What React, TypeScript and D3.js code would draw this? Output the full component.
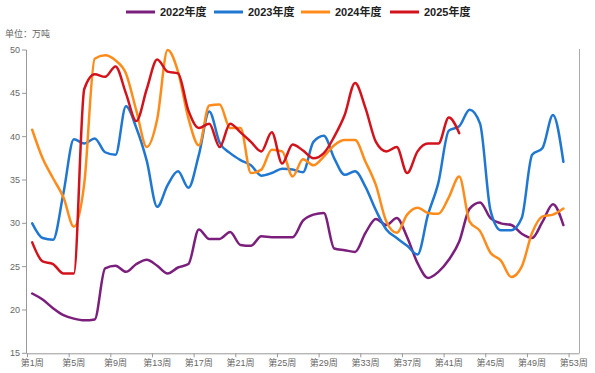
import React from "react";
import * as d3 from "d3";

const weeks = d3.range(1, 54);
const tickWeeks = [1, 5, 9, 13, 17, 21, 25, 29, 33, 37, 41, 45, 49, 53];
const yTicks = [15, 20, 25, 30, 35, 40, 45, 50];

const s2022 = [21.9, 21.2, 20.2, 19.4, 19.0, 18.8, 18.9, 24.8, 25.1, 24.4, 25.3, 25.8, 25.1, 24.2, 24.9, 25.3, 29.3, 28.2, 28.2, 29.0, 27.5, 27.4, 28.5, 28.4, 28.4, 28.4, 30.3, 31.0, 31.2, 27.1, 26.9, 26.7, 28.9, 30.5, 29.8, 30.6, 28.4, 25.4, 23.7, 24.4, 25.8, 27.9, 31.7, 32.4, 30.6, 30.0, 29.8, 28.8, 28.3, 30.2, 32.2, 29.8];
const s2023 = [30.0, 28.3, 28.1, 33.5, 39.7, 39.2, 39.8, 38.2, 37.9, 43.5, 41.0, 37.2, 31.9, 34.4, 36.0, 34.1, 37.9, 42.9, 39.3, 38.1, 37.3, 36.7, 35.5, 35.8, 36.3, 36.2, 35.9, 39.4, 40.1, 37.5, 35.6, 36.0, 34.2, 31.5, 29.3, 28.3, 27.4, 26.4, 31.0, 34.7, 40.7, 41.2, 43.1, 41.5, 31.5, 29.2, 29.2, 30.6, 37.9, 38.7, 42.5, 37.1];
const s2024 = [40.8, 37.5, 35.2, 33.0, 29.6, 34.6, 49.0, 49.4, 48.8, 47.3, 43.0, 38.8, 42.0, 50.0, 47.5, 42.1, 39.0, 43.6, 43.7, 41.0, 41.0, 35.8, 36.2, 38.5, 38.3, 35.4, 37.4, 36.7, 37.7, 39.0, 39.6, 39.6, 37.1, 34.4, 30.2, 28.9, 31.0, 31.8, 31.2, 31.1, 33.0, 35.4, 30.2, 29.1, 26.6, 25.7, 23.8, 25.0, 28.9, 30.8, 31.0, 31.7];
const s2025 = [27.8, 25.6, 25.3, 24.2, 24.2, 45.5, 47.2, 46.9, 48.1, 45.0, 41.8, 45.5, 48.9, 47.5, 47.3, 43.0, 41.0, 41.5, 38.8, 41.5, 40.5, 39.4, 38.3, 40.5, 36.9, 39.1, 38.4, 37.5, 38.1, 40.0, 42.5, 46.2, 43.3, 39.4, 38.3, 38.8, 35.8, 38.3, 39.2, 39.2, 42.2, 40.4];

const seriesNames = ["2022年度", "2023年度", "2024年度", "2025年度"];
const seriesData = [s2022, s2023, s2024, s2025];
const colors = ["#7b1f7c", "#1f77d2", "#ff8c1a", "#d2131c"];

const W = 595;
const H = 373;
const font = "Arial, 'Liberation Sans', 'Noto Sans CJK SC', sans-serif";

export default function App() {
  const x = d3.scaleBand<number>().domain(weeks).range([27, 579]).padding(0);
  const bw = x.bandwidth();
  const cx = (w: number) => (x(w) as number) + bw / 2;
  const y = d3.scaleLinear().domain([15, 50]).range([353.3, 50]);

  const line = d3
    .line<number>()
    .x((_, i) => cx(i + 1))
    .y((d) => y(d))
    .curve(d3.curveMonotoneX);

  const legendX = [126, 214, 301, 390];

  return (
    <svg
      width={W}
      height={H}
      style={{ position: "absolute", left: 0, top: 0, background: "#fff" }}
      fontFamily={font}
    >
      {/* legend */}
      {seriesNames.map((name, i) => (
        <g key={name} transform={`translate(${legendX[i]},12)`}>
          <line x1={0} x2={29} y1={0} y2={0} stroke={colors[i]} strokeWidth={3} />
          <text x={34} y={4} fontSize={11} fontWeight="bold" fill="#222">
            {name}
          </text>
        </g>
      ))}

      <text x={5} y={37} fontSize={9} fill="#666">
        单位：万吨
      </text>

      {/* y axis */}
      <line x1={26.5} x2={26.5} y1={y(50)} y2={y(15)} stroke="#999" />
      {yTicks.map((t) => (
        <g key={t}>
          <line x1={22} x2={26.5} y1={y(t)} y2={y(t)} stroke="#999" />
          <text x={20} y={y(t) + 3} fontSize={9} fill="#666" textAnchor="end">
            {t}
          </text>
        </g>
      ))}

      {/* right border */}
      <line x1={579.5} x2={579.5} y1={y(50) - 1} y2={y(15)} stroke="#aaa" />

      {/* x axis */}
      <line x1={26.5} x2={579.5} y1={y(15) + 0.5} y2={y(15) + 0.5} stroke="#999" />
      {tickWeeks.map((w) => (
        <g key={w}>
          <line
            x1={(x(w) as number) + 0.5}
            x2={(x(w) as number) + 0.5}
            y1={y(15)}
            y2={y(15) + 4}
            stroke="#999"
          />
          <text x={cx(w)} y={366} fontSize={9} fill="#666" textAnchor="middle">
            {`第${w}周`}
          </text>
        </g>
      ))}

      {/* series */}
      {seriesData.map((d, i) => (
        <path
          key={seriesNames[i]}
          d={line(d) || ""}
          fill="none"
          stroke={colors[i]}
          strokeWidth={2.5}
          strokeLinejoin="round"
          strokeLinecap="round"
        />
      ))}
    </svg>
  );
}
